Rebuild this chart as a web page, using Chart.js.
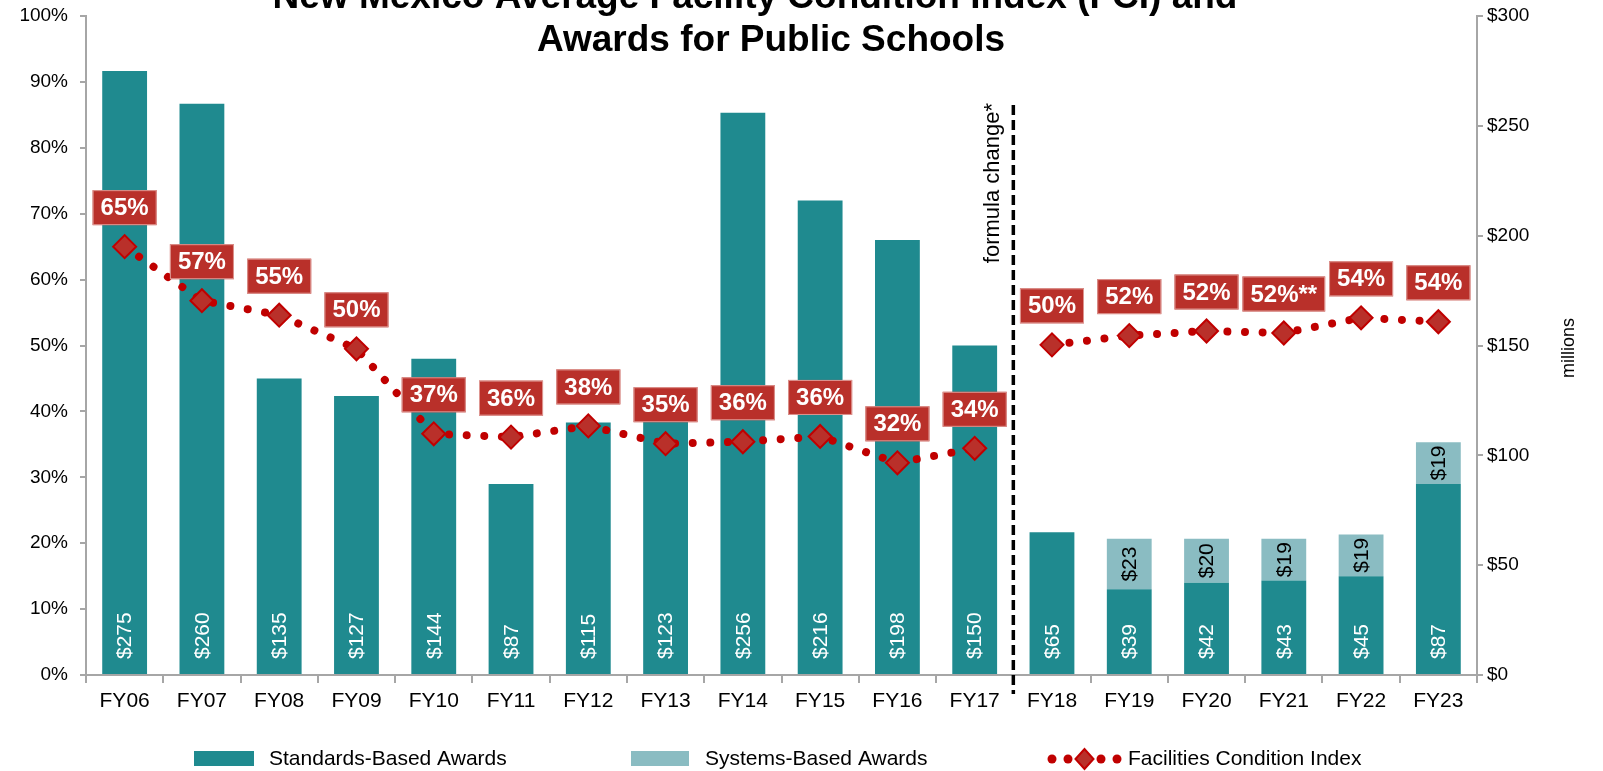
<!DOCTYPE html>
<html>
<head>
<meta charset="utf-8">
<script src="https://cdn.jsdelivr.net/npm/chart.js@4.4.1/dist/chart.umd.min.js"></script>
<style>
  body { margin: 0; background: #fff; }
  canvas { display: block; }
</style>
</head>
<body>
<canvas id="myChart" width="1603" height="771"></canvas>
<script>
// data
const years = ['FY06', 'FY07', 'FY08', 'FY09', 'FY10', 'FY11', 'FY12', 'FY13', 'FY14',
               'FY15', 'FY16', 'FY17', 'FY18', 'FY19', 'FY20', 'FY21', 'FY22', 'FY23'];
const standardsAwards = [275, 260, 135, 127, 144, 87, 115, 123, 256, 216, 198, 150, 65, 39, 42, 43, 45, 87];
const systemsAwards = [0, 0, 0, 0, 0, 0, 0, 0, 0, 0, 0, 0, 0, 23, 20, 19, 19, 19];
const fci = [65.0, 56.8, 54.6, 49.5, 36.6, 36.1, 37.8, 35.1, 35.4, 36.2, 32.2, 34.4, 50.1, 51.5, 52.2, 51.9, 54.2, 53.6];
const fciLabels = ['65%', '57%', '55%', '50%', '37%', '36%', '38%', '35%', '36%', '36%', '32%', '34%',
                   '50%', '52%', '52%', '52%**', '54%', '54%'];
const pctTicks = [0, 10, 20, 30, 40, 50, 60, 70, 80, 90, 100];
const dollarTicks = [0, 50, 100, 150, 200, 250, 300];

const TEAL = '#1F8A8F';
const LIGHT = '#8ABCC2';
const RED = '#C00000';
const BOX = '#B9302A';
const AXIS = '#A6A6A6';
const FONT = '"Liberation Sans", Arial, sans-serif';

const breakAfter = 11; // formula change between FY17 and FY18

const extras = {
  id: 'extras',
  afterDatasetsDraw(chart) {
    const ctx = chart.ctx;
    const xs = chart.scales.x;
    const area = chart.chartArea;

    // value labels inside the bars
    const m0 = chart.getDatasetMeta(0);
    const m1 = chart.getDatasetMeta(1);
    ctx.save();
    ctx.font = '21px ' + FONT;
    m0.data.forEach((bar, i) => {
      ctx.save();
      ctx.translate(bar.x, bar.base - 15);
      ctx.rotate(-Math.PI / 2);
      ctx.fillStyle = '#fff';
      ctx.textAlign = 'left';
      ctx.textBaseline = 'middle';
      ctx.fillText('$' + standardsAwards[i], 0, 1);
      ctx.restore();
    });
    m1.data.forEach((bar, i) => {
      if (!systemsAwards[i]) return;
      ctx.save();
      ctx.translate(bar.x, (bar.y + bar.base) / 2);
      ctx.rotate(-Math.PI / 2);
      ctx.fillStyle = '#000';
      ctx.textAlign = 'center';
      ctx.textBaseline = 'middle';
      ctx.fillText('$' + systemsAwards[i], 0, 1);
      ctx.restore();
    });
    ctx.restore();

    // formula change divider
    const xd = (xs.getPixelForValue(breakAfter) + xs.getPixelForValue(breakAfter + 1)) / 2;
    ctx.save();
    ctx.strokeStyle = '#000';
    ctx.lineWidth = 3.5;
    ctx.setLineDash([10, 5]);
    ctx.beginPath();
    ctx.moveTo(xd, 105);
    ctx.lineTo(xd, area.bottom + 19);
    ctx.stroke();
    ctx.restore();

    ctx.save();
    ctx.translate(xd - 20, 103);
    ctx.rotate(-Math.PI / 2);
    ctx.font = '22px ' + FONT;
    ctx.fillStyle = '#000';
    ctx.textAlign = 'right';
    ctx.textBaseline = 'middle';
    ctx.fillText('formula change*', 0, 0);
    ctx.restore();

    // FCI labels
    const m2 = chart.getDatasetMeta(2);
    ctx.save();
    ctx.font = 'bold 24px ' + FONT;
    m2.data.forEach((pt, i) => {
      const txt = fciLabels[i];
      const w = ctx.measureText(txt).width + 16;
      const h = 35;
      const bx = pt.x - w / 2;
      const by = pt.y - 21.5 - h;
      ctx.fillStyle = BOX;
      ctx.fillRect(bx, by, w, h);
      ctx.strokeStyle = '#DE9792';
      ctx.lineWidth = 1;
      ctx.strokeRect(bx + 0.5, by + 0.5, w - 1, h - 1);
      ctx.fillStyle = '#fff';
      ctx.textAlign = 'center';
      ctx.textBaseline = 'middle';
      ctx.fillText(txt, pt.x, by + h / 2 + 1);
    });
    ctx.restore();
  },
  afterDraw(chart) {
    const ctx = chart.ctx;
    // title, first line runs off the top
    ctx.save();
    ctx.font = 'bold 37px ' + FONT;
    ctx.fillStyle = '#000';
    ctx.textAlign = 'center';
    ctx.textBaseline = 'alphabetic';
    ctx.fillText('New Mexico Average Facility Condition Index (FCI) and', 755, 8);
    ctx.fillText('Awards for Public Schools', 771, 51);
    ctx.restore();

    // right axis title
    ctx.save();
    ctx.translate(1569, 348);
    ctx.rotate(-Math.PI / 2);
    ctx.font = '18px ' + FONT;
    ctx.fillStyle = '#000';
    ctx.textAlign = 'center';
    ctx.textBaseline = 'middle';
    ctx.fillText('millions', 0, 0);
    ctx.restore();

    // legend
    ctx.save();
    ctx.font = '21px ' + FONT;
    ctx.fillStyle = '#000';
    ctx.textBaseline = 'middle';
    ctx.textAlign = 'left';
    const ly = 759;
    ctx.fillStyle = TEAL;
    ctx.fillRect(194, ly - 8, 60, 15);
    ctx.fillStyle = '#000';
    ctx.fillText('Standards-Based Awards', 269, ly);
    ctx.fillStyle = LIGHT;
    ctx.fillRect(631, ly - 8, 58, 15);
    ctx.fillStyle = '#000';
    ctx.fillText('Systems-Based Awards', 705, ly);
    ctx.fillStyle = RED;
    [1052, 1068, 1101, 1117].forEach(x => {
      ctx.beginPath();
      ctx.arc(x, ly, 4.5, 0, Math.PI * 2);
      ctx.fill();
    });
    ctx.beginPath();
    ctx.moveTo(1084.5 - 9, ly);
    ctx.lineTo(1084.5, ly - 10);
    ctx.lineTo(1084.5 + 9, ly);
    ctx.lineTo(1084.5, ly + 10);
    ctx.closePath();
    ctx.fillStyle = BOX;
    ctx.fill();
    ctx.strokeStyle = RED;
    ctx.lineWidth = 2;
    ctx.stroke();
    ctx.fillStyle = '#000';
    ctx.fillText('Facilities Condition Index', 1128, ly);
    ctx.restore();
  }
};

// fixed axis boxes so the plot sits where the original does
function fitY(width) {
  return s => {
    s.width = width;
    s.paddingTop = 0;
    s.paddingBottom = 0;
  };
}

const ctx = document.getElementById('myChart');
const myChart = new Chart(ctx, {
  type: 'bar',
  data: {
    labels: years,
    datasets: [{
      label: 'Standards-Based Awards',
      data: standardsAwards,
      backgroundColor: TEAL,
      yAxisID: 'y1',
      stack: 'awards',
      order: 1,
      barPercentage: 0.58,
      categoryPercentage: 1.0
    }, {
      label: 'Systems-Based Awards',
      data: systemsAwards,
      backgroundColor: LIGHT,
      yAxisID: 'y1',
      stack: 'awards',
      order: 2,
      barPercentage: 0.58,
      categoryPercentage: 1.0
    }, {
      type: 'line',
      label: 'Facilities Condition Index',
      data: fci,
      yAxisID: 'y',
      order: 0,
      borderColor: RED,
      borderWidth: 8,
      borderCapStyle: 'round',
      borderDash: [0.01, 17.6],
      tension: 0,
      pointStyle: 'rectRot',
      pointRadius: 11.5,
      pointBorderWidth: 2,
      pointBackgroundColor: BOX,
      pointBorderColor: RED,
      segment: {
        borderColor: c => c.p0DataIndex === breakAfter ? 'rgba(0,0,0,0)' : undefined
      }
    }]
  },
  options: {
    responsive: false,
    devicePixelRatio: 1,
    animation: false,
    layout: { padding: { top: 16, left: 0, right: 0, bottom: 0 } },
    plugins: {
      legend: { display: false },
      title: { display: false },
      tooltip: { enabled: false }
    },
    scales: {
      x: {
        stacked: true,
        offset: true,
        grid: { display: true, drawOnChartArea: false, offset: true, tickLength: 8, color: AXIS, lineWidth: 2 },
        border: { color: AXIS, width: 2 },
        ticks: { color: '#000', font: { family: FONT, size: 21 }, padding: 6, maxRotation: 0, autoSkip: false },
        afterFit: s => { s.height = 96; s.paddingLeft = 0; s.paddingRight = 0; }
      },
      y: {
        position: 'left',
        min: 0,
        max: 100,
        afterBuildTicks: s => { s.ticks = pctTicks.map(v => ({ value: v })); },
        grid: { drawOnChartArea: false, tickLength: 6, color: AXIS, lineWidth: 2 },
        border: { color: AXIS, width: 2 },
        ticks: { color: '#000', font: { family: FONT, size: 19 }, padding: 12, callback: v => v + '%' },
        afterFit: fitY(86)
      },
      y1: {
        position: 'right',
        stacked: true,
        min: 0,
        max: 300,
        afterBuildTicks: s => { s.ticks = dollarTicks.map(v => ({ value: v })); },
        grid: { drawOnChartArea: false, tickLength: 6, color: AXIS, lineWidth: 2 },
        border: { color: AXIS, width: 2 },
        ticks: { color: '#000', font: { family: FONT, size: 19 }, padding: 4, callback: v => '$' + v },
        afterFit: fitY(126)
      }
    }
  },
  plugins: [extras]
});
</script>
</body>
</html>
